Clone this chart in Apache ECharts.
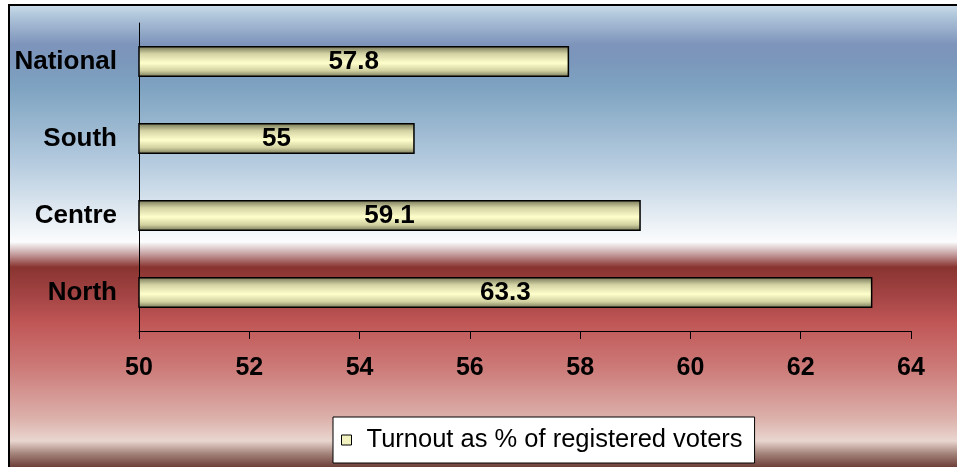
<!DOCTYPE html>
<html>
<head>
<meta charset="utf-8">
<script src="https://cdn.jsdelivr.net/npm/echarts@6/dist/echarts.min.js"></script>
<style>
  html, body { margin: 0; padding: 0; background: #ffffff; }
  #chart { width: 957px; height: 467px; }
</style>
</head>
<body>
<div id="chart"></div>
<script>
// Voter turnout by region
const regions = ['National', 'South', 'Centre', 'North'];
const turnout = [57.8, 55, 59.1, 63.3];
const seriesName = 'Turnout as % of registered voters';
const xTicks = { min: 50, max: 64, interval: 2 };

const chart = echarts.init(document.getElementById('chart'), null, { renderer: 'canvas' });

const G = echarts.graphic.LinearGradient;
const fontFamily = '"Liberation Sans", Arial, sans-serif';

// frame background: blue sky fading to white, then deep red fading to pink
const frameTop = 5, frameH = 470;
const stop = (y, c) => ({ offset: Math.min(1, Math.max(0, (y - frameTop) / frameH)), color: c });
const bgGradient = new G(0, 0, 0, 1, [
  stop(5, '#d0e1ee'),
  stop(15, '#b3c9dc'),
  stop(45, '#7e94bb'),
  stop(62, '#7b97bb'),
  stop(90, '#7fa4c2'),
  stop(167, '#b8cde0'),
  stop(227, '#eef3f7'),
  stop(242, '#fbfcfd'),
  stop(253, '#c9a7a7'),
  stop(267, '#893430'),
  stop(300, '#a84747'),
  stop(322, '#c05656'),
  stop(367, '#cc7a78'),
  stop(417, '#dcb0aa'),
  stop(440, '#e9d6cf'),
  stop(453, '#a28279'),
  stop(467, '#6a3a35'),
  stop(475, '#5e322e')
]);

// cylinder-like shading across each bar
const barGradient = new G(0, 0, 0, 1, [
  { offset: 0, color: '#727254' },
  { offset: 0.25, color: '#d2d2a4' },
  { offset: 0.55, color: '#ffffcc' },
  { offset: 0.8, color: '#d0d0a0' },
  { offset: 1, color: '#747456' }
]);

const option = {
  animation: false,
  graphic: [
    {
      type: 'rect',
      z: -10,
      silent: true,
      shape: { x: 9, y: frameTop, width: 960, height: frameH },
      style: { fill: bgGradient, stroke: '#000000', lineWidth: 2 }
    }
  ],
  grid: { left: 139, right: 46, top: 23, bottom: 136, containLabel: false },
  legend: {
    data: [seriesName],
    left: 333,
    top: 417,
    orient: 'horizontal',
    backgroundColor: '#ffffff',
    borderColor: '#000000',
    borderWidth: 1,
    padding: [10, 12, 10, 8],
    itemWidth: 10,
    itemHeight: 10,
    icon: 'rect',
    itemStyle: { color: '#f2f2c0', borderColor: '#000000', borderWidth: 1 },
    formatter: name => '{t|' + name + '}',
    textStyle: {
      rich: {
        t: { fontFamily: fontFamily, fontSize: 25.5, color: '#000000', padding: [0, 0, 0, 10] }
      }
    }
  },
  xAxis: {
    type: 'value',
    min: xTicks.min,
    max: xTicks.max,
    interval: xTicks.interval,
    axisLine: { show: true, lineStyle: { color: '#000000', width: 1 } },
    axisTick: { show: true, inside: false, length: 8, lineStyle: { color: '#000000' } },
    splitLine: { show: false },
    axisLabel: {
      margin: 25,
      fontFamily: fontFamily,
      fontSize: 25,
      fontWeight: 'bold',
      color: '#000000'
    }
  },
  yAxis: {
    type: 'category',
    data: regions,
    inverse: true,
    axisLine: { show: true, lineStyle: { color: '#000000', width: 1 } },
    axisTick: { show: false },
    axisLabel: {
      margin: 22,
      fontFamily: fontFamily,
      fontSize: 26,
      fontWeight: 'bold',
      color: '#000000',
      padding: [4, 0, 0, 0]
    }
  },
  series: [
    {
      name: seriesName,
      type: 'bar',
      data: turnout,
      barWidth: 31,
      itemStyle: { color: barGradient, borderColor: '#000000', borderWidth: 1.5 },
      label: {
        show: true,
        position: 'inside',
        fontFamily: fontFamily,
        fontSize: 26,
        fontWeight: 'bold',
        color: '#000000'
      }
    }
  ]
};

chart.setOption(option);
</script>
</body>
</html>
